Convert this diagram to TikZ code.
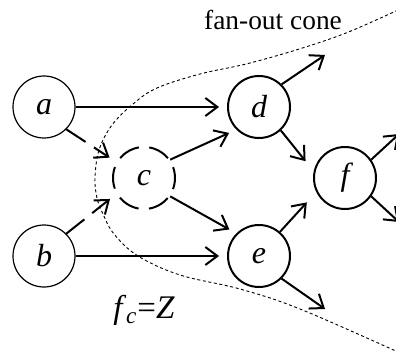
\documentclass[tikz,border=0pt]{standalone}
\usepackage{fontspec}
\setmainfont{Liberation Serif}
\usetikzlibrary{arrows.meta}

\begin{document}
\begin{tikzpicture}[x=0.5pt,y=-0.5pt,line width=1pt,>={Straight Barb[length=6pt,width=9pt]},
  gate/.style={circle,draw,minimum size=31pt,inner sep=0pt,font=\fontsize{16}{18}\selectfont\itshape},
  input/.style={gate,line width=0.6pt},
  faulty/.style={gate,dash pattern=on 11pt off 5.2pt,dash phase=5.5pt},
  link/.style={->,shorten >=4pt},
  cone/.style={line width=0.45pt,dash pattern=on 1.5pt off 1.3pt}]
  \useasboundingbox (0,0) rectangle (396,358);
  \clip (0,0) rectangle (396,358);
  % gates
  \node[input] (a) at (44,107) {a};
  \node[input] (b) at (44,256) {b};
  \node[faulty] (c) at (144,178) {c};
  \node[gate] (d) at (259,107) {d};
  \node[gate] (e) at (259,256) {e};
  \node[gate] (f) at (345,178) {f};
  \coordinate (dout) at (325,55);
  \coordinate (eout) at (325,309);
  \coordinate (fup) at (399,134);
  \coordinate (fdown) at (399,222);
  % wires
  \draw[link] (a) -- (d);
  \draw[link] (b) -- (e);
  \draw[link,dash pattern=on 11.5pt off 5pt] (a.-45) -- (c.150);
  \draw[link,dash pattern=on 11.5pt off 5pt] (b.45) -- (c.210);
  \draw[link] (c.35) -- (d.225);
  \draw[link] (c.-35) -- (e.135);
  \draw[->] (d.45) -- (dout);
  \draw[link,shorten >=6.5pt] (d.-47) -- (f.168);
  \draw[link,shorten >=7pt] (e.49) -- (f.206);
  \draw[->] (e.-45) -- (eout);
  \draw[->] (f.35) -- (fup);
  \draw[->] (f.-35) -- (fdown);
  % cone
  \draw[cone] plot[smooth,tension=0.6] coordinates {(398,10) (346,33) (296,50) (246,64) (200,74) (157,88) (133,104) (112,125) (99,150) (95,178) (97,198) (103,214) (114,234) (138,256) (180,275) (240,289) (300,309) (398,352)};
  \node[font=\fontsize{13.7}{16}\selectfont] (title) at (273,20) {fan-out cone};
  \node[font=\fontsize{16.5}{19}\selectfont] (fault) at (144,310) {\textit{f}\textsubscript{\textit{c}}=\textit{Z}};
\end{tikzpicture}
\end{document}
